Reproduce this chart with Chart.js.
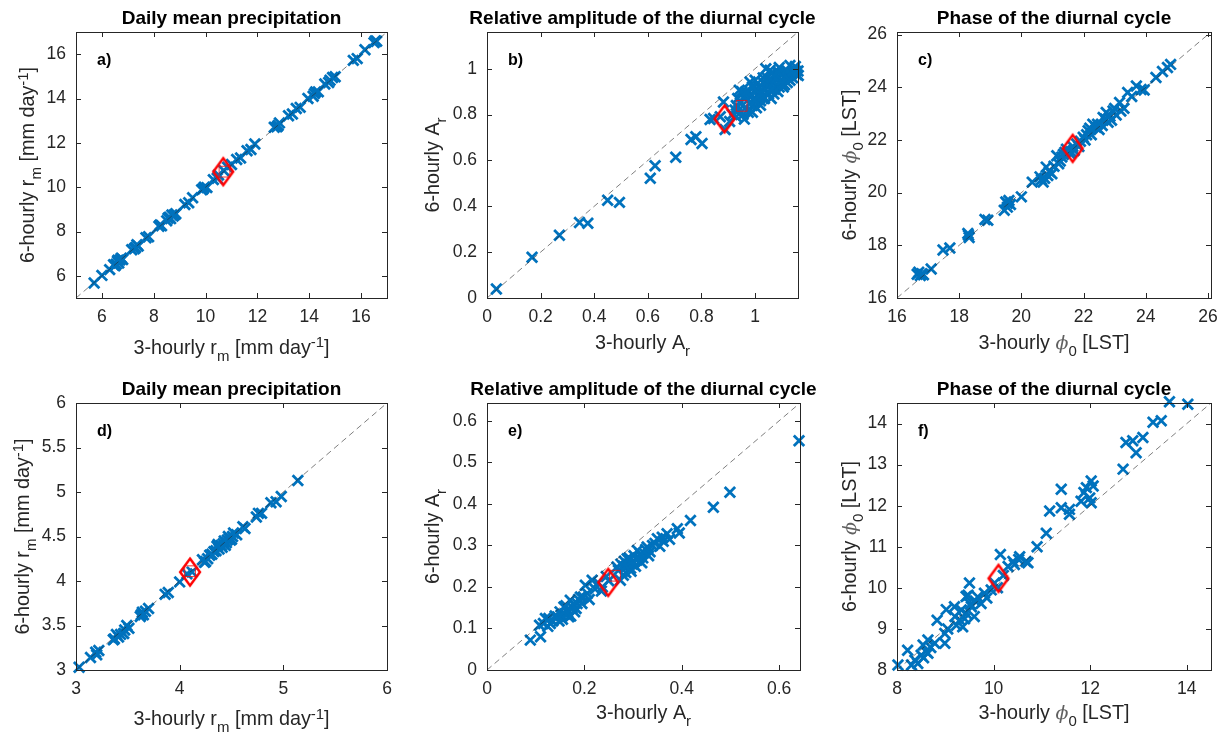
<!DOCTYPE html>
<html><head><meta charset="utf-8">
<script src="https://cdn.jsdelivr.net/npm/chart.js@4.4.1/dist/chart.umd.min.js"></script>
<style>
html,body{margin:0;padding:0;background:#fff;overflow:hidden;}
#wrap{position:relative;width:1225px;height:733px;overflow:hidden;background:#fff;}
#wrap canvas{position:absolute;}
</style></head><body><div id="wrap"></div>
<script>
// ---------------- DATA ----------------
const titles = ['Daily mean precipitation','Relative amplitude of the diurnal cycle','Phase of the diurnal cycle',
                'Daily mean precipitation','Relative amplitude of the diurnal cycle','Phase of the diurnal cycle'];
const letters = ['a)','b)','c)','d)','e)','f)'];

const rangeA = [5, 17], rangeB = [0, 1.16], rangeC = [16, 26.1];
const rangeD = [3, 6],  rangeE = [0, 0.643], rangeF = [8, 14.5];

const ticksAx = [6,8,10,12,14,16],          ticksAy = [6,8,10,12,14,16];
const ticksBx = [0,0.2,0.4,0.6,0.8,1],      ticksBy = [0,0.2,0.4,0.6,0.8,1];
const ticksCx = [16,18,20,22,24,26],        ticksCy = [16,18,20,22,24,26];
const ticksDx = [3,4,5,6],                  ticksDy = [3,3.5,4,4.5,5,5.5,6];
const ticksEx = [0,0.2,0.4,0.6],            ticksEy = [0,0.1,0.2,0.3,0.4,0.5,0.6];
const ticksFx = [8,10,12,14],               ticksFy = [8,9,10,11,12,13,14];

// 3-hourly (x) vs 6-hourly (y) values, one pair per grid point
const ptsA = [[5.70,5.68],[6.00,6.02],[6.30,6.28],[6.45,6.50],[6.55,6.52],[6.60,6.66],[6.65,6.58],[6.70,6.72],[6.75,6.80],[6.80,6.74],
  [7.15,7.18],[7.25,7.22],[7.35,7.40],[7.40,7.34],[7.70,7.72],[7.80,7.76],[8.20,8.24],[8.30,8.26],[8.50,8.48],[8.60,8.64],
  [8.65,8.58],[8.70,8.74],[8.75,8.70],[8.85,8.80],[9.20,9.22],[9.35,9.30],[9.50,9.52],[9.85,9.88],[9.95,10.00],[10.05,9.98],
  [10.30,10.34],[10.45,10.40],[10.70,10.75],[10.85,10.90],[11.00,11.02],[11.20,11.25],[11.35,11.32],[11.60,11.64],[11.75,11.70],[11.90,11.95],
  [12.65,12.70],[12.75,12.72],[12.85,12.90],[13.20,13.22],[13.35,13.30],[13.50,13.55],[13.65,13.60],[13.95,14.00],[14.15,14.10],[14.25,14.30],
  [14.35,14.30],[14.60,14.65],[14.75,14.72],[14.90,14.95],[15.00,14.98],[15.70,15.72],[15.85,15.80],[16.15,16.20],[16.50,16.52],[16.60,16.58],
  [6.50,6.45],[6.62,6.70],[7.30,7.28],[8.25,8.30],[8.55,8.60],[8.80,8.76],[9.90,9.92],[10.50,10.55],[12.80,12.78],[14.20,14.22],[14.80,14.82],[16.55,16.60]];

const ptsB = [[0.035,0.039],[0.168,0.178],[0.270,0.274],[0.345,0.329],[0.376,0.326],[0.450,0.426],[0.494,0.417],[0.609,0.522],[0.627,0.577],[0.704,0.614],
  [0.761,0.691],[0.779,0.703],[0.802,0.674],[0.832,0.778],[0.845,0.783],[0.882,0.855],[0.888,0.735],[0.870,0.790],[0.905,0.770],[0.915,0.800],
  [0.925,0.820],[0.935,0.870],[0.941,0.906],[0.945,0.850],[0.955,0.800],[0.960,0.880],[0.965,0.830],[0.970,0.860],[0.975,0.810],[0.981,0.942],
  [0.985,0.890],[0.990,0.840],[0.995,0.870],[1.000,0.900],[1.005,0.830],[1.010,0.880],[1.015,0.920],[1.020,0.860],[1.025,0.900],[1.030,0.940],
  [1.035,0.870],[1.040,0.910],[1.045,0.960],[1.050,0.890],[1.055,0.930],[1.056,0.993],[1.060,0.870],[1.065,0.950],[1.070,0.910],[1.075,0.970],
  [1.080,0.930],[1.085,0.900],[1.090,0.960],[1.095,0.940],[1.100,0.980],[1.105,0.920],[1.110,0.960],[1.115,0.990],[1.120,0.940],[1.125,0.970],
  [1.130,1.014],[1.135,0.980],[1.140,0.960],[1.145,1.000],[1.150,0.990],[1.155,0.975],[1.161,0.970],[1.150,1.010],[0.930,0.790],[0.960,0.780],
  [0.990,0.810],[1.020,0.840],[1.040,1.000],[1.070,0.890],[1.100,0.930],[1.120,0.990],[1.000,0.950],[0.950,0.900],[1.060,0.980],[1.090,1.005],
  [0.930,0.840],[0.940,0.820],[0.970,0.890],[0.980,0.850],[1.000,0.860],[1.010,0.910],[1.020,0.890],[1.030,0.880],[1.040,0.930],[1.050,0.950],
  [1.060,0.910],[1.070,0.940],[1.080,0.960],[1.090,0.920],[1.100,0.950],[1.110,0.930],[1.120,0.960],[1.130,0.950],[1.140,0.990],[1.160,0.990],
  [0.965,0.900],[0.990,0.920],[1.030,0.960],[1.085,0.985]];

const ptsC = [[16.65,16.90],[16.70,16.98],[16.75,16.85],[16.80,16.92],[16.85,16.88],[17.10,17.10],[17.48,17.82],[17.70,17.90],[18.28,18.45],[18.32,18.30],
  [18.30,18.38],[18.83,18.98],[18.92,18.95],[19.45,19.33],[19.50,19.65],[19.60,19.70],[19.65,19.55],[19.55,19.45],[20.00,19.84],[20.35,20.40],
  [20.60,20.60],[20.70,20.40],[20.75,20.55],[20.80,20.97],[20.90,20.80],[20.98,20.72],[21.05,21.00],[21.14,21.40],[21.25,21.20],[21.30,21.35],
  [21.40,21.53],[21.45,21.65],[21.55,21.50],[21.65,21.75],[21.70,21.60],[21.78,21.85],[21.90,21.95],[21.99,22.10],[22.05,22.00],[22.15,22.35],
  [22.25,22.20],[22.30,22.60],[22.40,22.48],[22.50,22.40],[22.63,22.85],[22.73,23.04],[22.79,22.67],[22.85,22.90],[22.95,23.10],[23.05,22.95],
  [23.16,23.42],[23.30,23.20],[23.42,23.80],[23.55,23.65],[23.70,24.05],[23.85,23.92],[23.95,23.90],[24.33,24.37],[24.54,24.60],[24.70,24.75],[24.80,24.87],
  [21.20,21.10],[21.35,21.45],[21.60,21.55],[21.85,21.75],[22.10,22.20],[22.20,22.45],[22.45,22.60],[22.60,22.55],[22.70,22.80],[22.90,22.75],
  [23.00,23.20],[23.20,23.10],[20.65,20.50],[20.85,20.65],[19.55,19.60]];

const ptsD = [[3.03,3.03],[3.14,3.14],[3.19,3.20],[3.22,3.22],[3.20,3.17],[3.36,3.34],[3.39,3.40],[3.41,3.37],[3.46,3.41],[3.49,3.50],
  [3.51,3.47],[3.62,3.60],[3.64,3.65],[3.65,3.62],[3.70,3.69],[3.86,3.85],[3.89,3.87],[4.00,3.99],[4.07,4.08],[4.12,4.10],
  [4.22,4.24],[4.25,4.22],[4.29,4.29],[4.33,4.33],[4.36,4.39],[4.38,4.36],[4.40,4.40],[4.42,4.42],[4.44,4.40],[4.46,4.46],
  [4.48,4.48],[4.50,4.47],[4.52,4.54],[4.55,4.52],[4.61,4.61],[4.63,4.59],[4.74,4.72],[4.76,4.76],[4.79,4.76],[4.88,4.88],
  [4.93,4.89],[4.98,4.95],[5.14,5.13],
  [4.31,4.30],[4.35,4.34],[4.37,4.41],[4.41,4.38],[4.43,4.45],[4.45,4.43],[4.47,4.50],[4.49,4.46],[4.51,4.50],[4.24,4.21],
  [4.27,4.25],[3.37,3.35],[3.43,3.40],[3.47,3.45],[3.63,3.62],[3.67,3.66]];

const ptsE = [[0.089,0.072],[0.110,0.080],[0.108,0.108],[0.116,0.112],[0.120,0.124],[0.127,0.124],[0.135,0.118],[0.145,0.128],[0.150,0.140],[0.155,0.122],
  [0.158,0.152],[0.160,0.135],[0.165,0.145],[0.168,0.128],[0.171,0.168],[0.175,0.150],[0.180,0.140],[0.185,0.160],[0.192,0.176],[0.195,0.160],
  [0.202,0.204],[0.206,0.184],[0.210,0.170],[0.216,0.216],[0.222,0.195],[0.237,0.200],[0.245,0.225],[0.267,0.248],[0.274,0.216],[0.280,0.250],
  [0.285,0.235],[0.288,0.268],[0.290,0.255],[0.295,0.245],[0.300,0.262],[0.305,0.250],[0.309,0.288],[0.312,0.270],[0.318,0.258],[0.322,0.282],
  [0.329,0.296],[0.335,0.285],[0.340,0.300],[0.350,0.316],[0.355,0.298],[0.362,0.310],[0.370,0.328],[0.375,0.315],[0.391,0.340],[0.395,0.330],
  [0.418,0.360],[0.465,0.392],[0.499,0.428],[0.641,0.552],
  [0.140,0.130],[0.148,0.118],[0.152,0.132],[0.162,0.155],[0.166,0.138],[0.172,0.130],[0.178,0.158],[0.183,0.148],[0.188,0.170],[0.198,0.175],
  [0.130,0.112],[0.125,0.105],[0.270,0.240],[0.275,0.255],[0.282,0.262],[0.286,0.250],[0.292,0.270],[0.298,0.255],[0.302,0.275],[0.308,0.265],
  [0.315,0.280],[0.320,0.270],[0.326,0.290],[0.332,0.275],[0.345,0.305],[0.360,0.320],[0.280,0.228],[0.296,0.238],[0.228,0.210],[0.250,0.215],[0.235,0.190]];

const ptsF = [[8.02,8.12],[8.22,8.48],[8.30,8.12],[8.37,8.24],[8.43,8.16],[8.50,8.36],[8.54,8.61],[8.55,8.30],[8.60,8.45],[8.64,8.41],
  [8.64,8.73],[8.70,8.55],[8.78,8.65],[8.83,9.21],[8.99,8.89],[8.99,8.65],[9.02,9.47],[9.05,9.00],[9.19,9.54],[9.20,9.30],
  [9.23,9.09],[9.30,9.22],[9.33,9.46],[9.36,9.05],[9.40,9.25],[9.43,9.38],[9.43,9.79],[9.47,9.82],[9.50,10.12],[9.52,9.60],
  [9.54,9.54],[9.60,9.30],[9.62,9.68],[9.67,9.78],[9.74,9.62],[9.81,9.87],[9.86,9.75],[9.95,9.95],[10.02,10.12],[10.08,10.00],
  [10.14,10.81],[10.20,10.30],[10.30,10.52],[10.40,10.64],[10.43,10.57],[10.52,10.69],[10.54,10.76],[10.67,10.64],[10.71,10.61],[10.90,11.00],
  [11.09,11.33],[11.16,11.87],[11.40,12.40],[11.40,11.95],[11.57,11.91],[11.57,11.79],[11.81,12.11],[11.87,12.32],[11.92,12.44],[11.99,12.19],
  [12.02,12.07],[12.02,12.60],[12.06,12.48],[12.68,12.89],[12.74,13.54],[12.88,13.58],[12.95,13.29],[13.09,13.66],[13.30,14.03],[13.47,14.07],
  [13.64,14.53],[14.02,14.47]];

// highlighted (domain mean) point: diamond, and small square marker
const diamondPts = [[10.68,10.70],[0.886,0.781],[21.65,21.68],[4.10,4.10],[0.249,0.211],[10.10,10.23]];
const squarePts  = [[10.73,10.70],[0.950,0.838],null,[4.10,4.11],[0.263,0.227],null];

// axis label texts (segments: plain / sub / sup / phi)
const labRmX = [['3-hourly r'],['m','sub'],[' [mm day'],['-1','sup'],[']']];
const labRmY = [['6-hourly r'],['m','sub'],[' [mm day'],['-1','sup'],[']']];
const labArX = [['3-hourly A'],['r','sub']];
const labArY = [['6-hourly A'],['r','sub']];
const labPhX = [['3-hourly '],['\u03D5','phi'],['0','sub'],[' [LST]']];
const labPhY = [['6-hourly '],['\u03D5','phi'],['0','sub'],[' [LST]']];

// ---------------- RENDER ----------------
const FONT = '"Liberation Sans", Arial, Helvetica, sans-serif';
const INK = '#262626';
const BLUE = '#0072BD';

const panels = [
  {pts: ptsA, rng: rangeA, tx: ticksAx, ty: ticksAy, xl: labRmX, yl: labRmY, L: 76,  T: 32,  W: 311, H: 266, xo: 48.5, yo: 49},
  {pts: ptsB, rng: rangeB, tx: ticksBx, ty: ticksBy, xl: labArX, yl: labArY, L: 487, T: 32,  W: 311, H: 266, xo: 43.5, yo: 55},
  {pts: ptsC, rng: rangeC, tx: ticksCx, ty: ticksCy, xl: labPhX, yl: labPhY, L: 897, T: 32,  W: 314, H: 266, xo: 44,   yo: 48},
  {pts: ptsD, rng: rangeD, tx: ticksDx, ty: ticksDy, xl: labRmX, yl: labRmY, L: 76,  T: 403, W: 311, H: 267, xo: 48,   yo: 54},
  {pts: ptsE, rng: rangeE, tx: ticksEx, ty: ticksEy, xl: labArX, yl: labArY, L: 487, T: 403, W: 313, H: 267, xo: 42,   yo: 55},
  {pts: ptsF, rng: rangeF, tx: ticksFx, ty: ticksFy, xl: labPhX, yl: labPhY, L: 897, T: 403, W: 314, H: 267, xo: 42,   yo: 48}
];

function diamondImg() {
  const c = document.createElement('canvas'); c.width = 26; c.height = 36;
  const g = c.getContext('2d');
  g.strokeStyle = '#ff0000'; g.lineWidth = 2.5; g.lineJoin = 'miter';
  g.beginPath(); g.moveTo(13, 4.5); g.lineTo(22.9, 18); g.lineTo(13, 31.5); g.lineTo(3.1, 18); g.closePath(); g.stroke();
  return c;
}
const DIAMOND = diamondImg();

function segFont(s) {
  if (s[1] === 'sub' || s[1] === 'sup') return '15px ' + FONT;
  if (s[1] === 'phi') return 'italic 19px "DejaVu Serif", "Liberation Serif", serif';
  return '19.8px ' + FONT;
}
function drawRich(ctx, segs, cx, cy, rotate) {
  ctx.save();
  let total = 0;
  const ws = segs.map(s => { ctx.font = segFont(s); const w = ctx.measureText(s[0]).width; total += w; return w; });
  ctx.translate(cx, cy);
  if (rotate) ctx.rotate(-Math.PI / 2);
  ctx.textAlign = 'left'; ctx.textBaseline = 'alphabetic';
  let x = -total / 2;
  const base = 7.1;
  segs.forEach((s, i) => {
    ctx.font = segFont(s);
    ctx.fillStyle = s[1] === 'phi' ? '#606060' : INK;
    const dy = s[1] === 'sub' ? 7 : (s[1] === 'sup' ? -6.5 : 0);
    ctx.fillText(s[0], x, base + dy);
    x += ws[i];
  });
  ctx.restore();
}

const framePlugin = {
  id: 'frame',
  afterDraw(chart, args, opts) {
    const ctx = chart.ctx, a = chart.chartArea;
    const xs = chart.scales.x, ys = chart.scales.y;
    ctx.save();
    ctx.strokeStyle = INK; ctx.lineWidth = 1;
    ctx.beginPath();
    xs.ticks.forEach(t => {
      const p = Math.round(xs.getPixelForValue(t.value)) + 0.5;
      ctx.moveTo(p, a.bottom); ctx.lineTo(p, a.bottom - 5);
      ctx.moveTo(p, a.top); ctx.lineTo(p, a.top + 5);
    });
    ys.ticks.forEach(t => {
      const p = Math.round(ys.getPixelForValue(t.value)) + 0.5;
      ctx.moveTo(a.left, p); ctx.lineTo(a.left + 5, p);
      ctx.moveTo(a.right, p); ctx.lineTo(a.right - 5, p);
    });
    ctx.stroke();
    ctx.strokeRect(Math.round(a.left) + 0.5, Math.round(a.top) + 0.5, Math.round(a.right - a.left), Math.round(a.bottom - a.top));
    ctx.fillStyle = '#000'; ctx.font = 'bold 16px ' + FONT; ctx.textBaseline = 'middle'; ctx.textAlign = 'left';
    ctx.fillText(opts.letter, a.left + 21, a.top + 29);
    drawRich(ctx, opts.xlabel, (a.left + a.right) / 2, a.bottom + opts.xoff, false);
    drawRich(ctx, opts.ylabel, a.left - opts.yoff, (a.top + a.bottom) / 2, true);
    ctx.restore();
  }
};

const fmt = v => String(Math.round(v * 1000) / 1000);
const wrap = document.getElementById('wrap');

panels.forEach((p, i) => {
  const cv = document.createElement('canvas');
  const cw = p.W + 152, ch = p.H + 102;
  cv.width = cw; cv.height = ch;
  cv.style.width = cw + 'px'; cv.style.height = ch + 'px';
  cv.style.left = (p.L - 76) + 'px'; cv.style.top = (p.T - 32) + 'px';
  wrap.appendChild(cv);

  const datasets = [
    {type: 'scatter', data: p.pts.map(q => ({x: q[0], y: q[1]})), pointStyle: 'crossRot', pointRadius: 7.4,
     pointBorderWidth: 2.8, borderColor: BLUE, backgroundColor: BLUE, clip: false, order: 3},
    {type: 'line', data: [{x: p.rng[0], y: p.rng[0]}, {x: p.rng[1], y: p.rng[1]}], borderColor: 'rgba(40,40,40,0.75)',
     borderWidth: 0.8, borderDash: [6, 4], pointRadius: 0, fill: false, order: 2},
    {type: 'scatter', data: [{x: diamondPts[i][0], y: diamondPts[i][1]}], pointStyle: DIAMOND, pointRadius: 10,
     clip: false, order: 1}
  ];
  if (squarePts[i]) {
    datasets.push({type: 'scatter', data: [{x: squarePts[i][0], y: squarePts[i][1]}], pointStyle: 'rect', pointRadius: 7.6,
      pointBorderWidth: 1, borderColor: 'rgba(235,20,20,0.85)', backgroundColor: 'rgba(0,0,0,0)', clip: false, order: 0});
  }

  new Chart(cv, {
    data: {datasets},
    options: {
      responsive: false, animation: false, events: [],
      layout: {padding: 0},
      plugins: {
        legend: {display: false}, tooltip: {enabled: false},
        title: {display: true, text: titles[i], color: '#000', font: {family: FONT, size: 19, weight: 'bold', lineHeight: 1.2},
                padding: {top: 7.2, bottom: 2}},
        frame: {letter: letters[i], xlabel: p.xl, ylabel: p.yl, xoff: p.xo, yoff: p.yo}
      },
      scales: {
        x: {type: 'linear', position: 'bottom', min: p.rng[0], max: p.rng[1],
            grid: {display: false, drawTicks: false}, border: {display: false},
            ticks: {color: INK, font: {family: FONT, size: 17.5}, padding: 8.5, autoSkip: false, maxRotation: 0, minRotation: 0, callback: fmt},
            afterBuildTicks: s => { s.ticks = p.tx.map(v => ({value: v})); },
            afterFit: s => { s.height = 70; s.paddingLeft = 0; s.paddingRight = 0; }},
        y: {type: 'linear', position: 'left', min: p.rng[0], max: p.rng[1],
            grid: {display: false, drawTicks: false}, border: {display: false},
            ticks: {color: INK, font: {family: FONT, size: 17.5}, padding: 10, autoSkip: false, callback: fmt},
            afterBuildTicks: s => { s.ticks = p.ty.map(v => ({value: v})); },
            afterFit: s => { s.width = 76; s.paddingTop = 0; s.paddingBottom = 0; }},
        y2: {type: 'linear', position: 'right', display: true,
             grid: {display: false, drawTicks: false}, border: {display: false}, ticks: {display: false},
             afterFit: s => { s.width = 76; s.paddingTop = 0; s.paddingBottom = 0; }}
      }
    },
    plugins: [framePlugin]
  });
});
</script></body></html>
